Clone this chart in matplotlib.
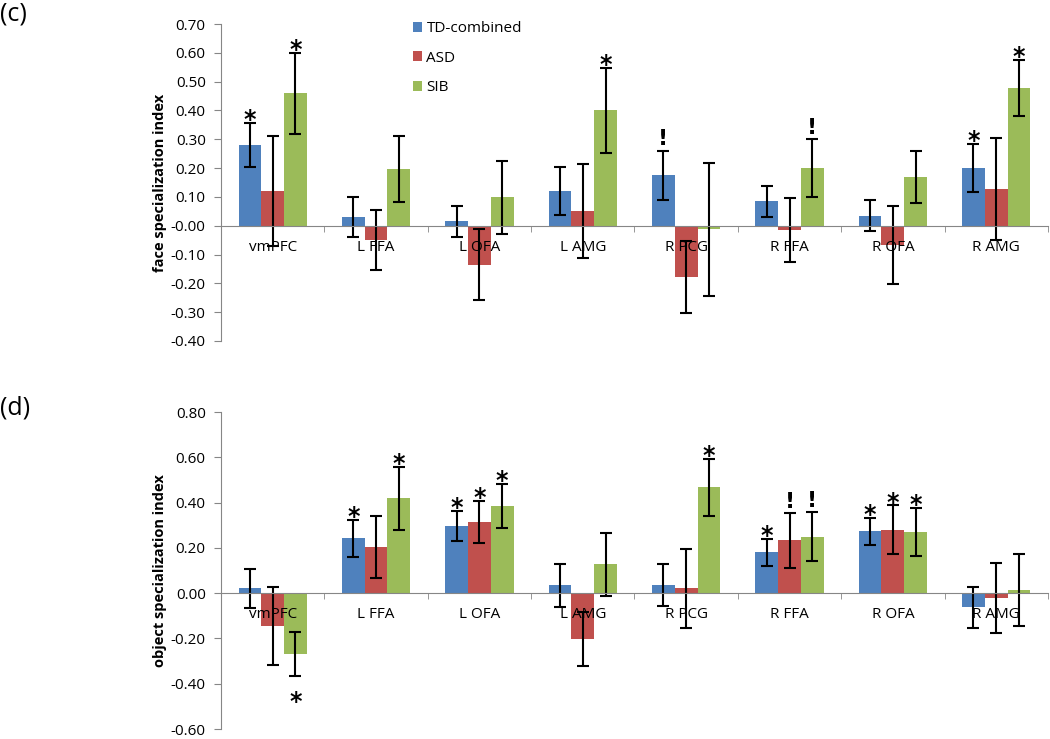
import matplotlib
matplotlib.use("Agg")
import numpy as np
import matplotlib.pyplot as plt
from matplotlib.patches import Patch

plt.rcParams["font.family"] = ["Open Sans", "DejaVu Sans"]
plt.rcParams["axes.unicode_minus"] = False

regions = ["vmPFC", "L FFA", "L OFA", "L AMG", "R PCG", "R FFA", "R OFA", "R AMG"]
groups = ["TD-combined", "ASD", "SIB"]
colors = ["#4F81BD", "#C0504D", "#9BBB59"]

# (c) face specialization index
face_td = [0.28, 0.03, 0.015, 0.12, 0.175, 0.085, 0.035, 0.20]
face_asd = [0.12, -0.05, -0.135, 0.05, -0.177, -0.015, -0.067, 0.127]
face_sib = [0.46, 0.197, 0.098, 0.40, -0.013, 0.20, 0.17, 0.477]
face_td_err = [0.077, 0.07, 0.055, 0.083, 0.085, 0.054, 0.055, 0.083]
face_asd_err = [0.19, 0.105, 0.123, 0.163, 0.125, 0.11, 0.137, 0.176]
face_sib_err = [0.14, 0.113, 0.128, 0.148, 0.23, 0.10, 0.09, 0.097]
face_td_sig = ["*", "", "", "", "!", "", "", "*"]
face_asd_sig = ["", "", "", "", "", "", "", ""]
face_sib_sig = ["*", "", "", "*", "", "!", "", "*"]

# (d) object specialization index
obj_td = [0.021, 0.242, 0.297, 0.035, 0.037, 0.18, 0.274, -0.062]
obj_asd = [-0.144, 0.202, 0.314, -0.202, 0.021, 0.233, 0.28, -0.021]
obj_sib = [-0.268, 0.419, 0.386, 0.127, 0.467, 0.249, 0.271, 0.016]
obj_td_err = [0.085, 0.08, 0.065, 0.095, 0.092, 0.06, 0.06, 0.09]
obj_asd_err = [0.172, 0.137, 0.094, 0.118, 0.176, 0.12, 0.108, 0.154]
obj_sib_err = [0.097, 0.139, 0.098, 0.139, 0.126, 0.108, 0.107, 0.159]
obj_td_sig = ["", "*", "*", "", "", "*", "*", ""]
obj_asd_sig = ["", "", "*", "", "", "!", "*", ""]
obj_sib_sig = ["*", "*", "*", "", "*", "!", "*", ""]

grey = "#868686"
bar_w = 0.22


def draw_panel(ax, means, errs, sigs, ylim, step, ylabel):
    x = np.arange(len(regions))
    for k in range(3):
        xs = x + (k - 1) * bar_w
        ax.bar(xs, means[k], bar_w, color=colors[k], zorder=1)
        ax.errorbar(xs, means[k], yerr=errs[k], fmt="none", ecolor="black",
                    elinewidth=1.5, capsize=4, capthick=1.5, zorder=1.5)
        for xi, m, e, s in zip(xs, means[k], errs[k], sigs[k]):
            if not s:
                continue
            if s == "*":
                if m < 0 and k == 2 and m - e < -0.3:
                    ax.annotate(s, (xi, m - e), xytext=(0, -24),
                                textcoords="offset points", ha="center",
                                va="baseline", fontsize=17, fontweight="bold",
                                family="DejaVu Sans")
                else:
                    ax.annotate(s, (xi, m + e), xytext=(0, -3),
                                textcoords="offset points", ha="center",
                                va="baseline", fontsize=17, fontweight="bold",
                                family="DejaVu Sans")
            else:
                ax.annotate(s, (xi, m + e), xytext=(0, 4),
                            textcoords="offset points", ha="center",
                            va="baseline", fontsize=16, fontweight="bold",
                            family="DejaVu Sans")

    ax.set_axisbelow(False)
    ax.set_xlim(-0.5, len(regions) - 0.5)
    ax.set_ylim(*ylim)
    ax.set_yticks(np.arange(ylim[0], ylim[1] + step / 2, step))
    ax.yaxis.set_major_formatter(plt.FormatStrFormatter("%.2f"))
    ax.spines["top"].set_visible(False)
    ax.spines["right"].set_visible(False)
    ax.spines["left"].set_color(grey)
    ax.spines["bottom"].set_color(grey)
    ax.spines["bottom"].set_position(("data", 0))
    ax.set_xticks(x)
    ax.set_xticklabels(regions, fontsize=11)
    ax.set_xticks(np.arange(-0.5, len(regions)), minor=True)
    ax.tick_params(axis="x", which="major", length=0, pad=10)
    ax.tick_params(axis="x", which="minor", length=4, color=grey, direction="out")
    ax.tick_params(axis="y", length=5, color=grey, labelsize=11, pad=6)
    ax.set_ylabel(ylabel, fontsize=10.5, fontweight="bold", labelpad=3)


fig = plt.figure(figsize=(10.5, 7.39), dpi=100)
ax1 = fig.add_axes([0.2105, 0.5386, 0.7875, 0.4289])
ax2 = fig.add_axes([0.2105, 0.0135, 0.7875, 0.4289])

draw_panel(ax1, [face_td, face_asd, face_sib],
           [face_td_err, face_asd_err, face_sib_err],
           [face_td_sig, face_asd_sig, face_sib_sig],
           (-0.4, 0.7), 0.1, "face specialization index")
draw_panel(ax2, [obj_td, obj_asd, obj_sib],
           [obj_td_err, obj_asd_err, obj_sib_err],
           [obj_td_sig, obj_asd_sig, obj_sib_sig],
           (-0.6, 0.8), 0.2, "object specialization index")

handles = [Patch(facecolor=c, edgecolor="none") for c in colors]
fig.legend(handles, groups, loc="upper left", bbox_to_anchor=(0.380, 0.99),
           frameon=False, fontsize=11, handlelength=0.6, handleheight=0.6,
           handletextpad=0.3, labelspacing=0.95)

fig.text(0.0, 0.981, "(c)", fontsize=18, va="center", ha="left")
fig.text(0.0, 0.448, "(d)", fontsize=18, va="center", ha="left")

fig.savefig("out.png", dpi=100)
